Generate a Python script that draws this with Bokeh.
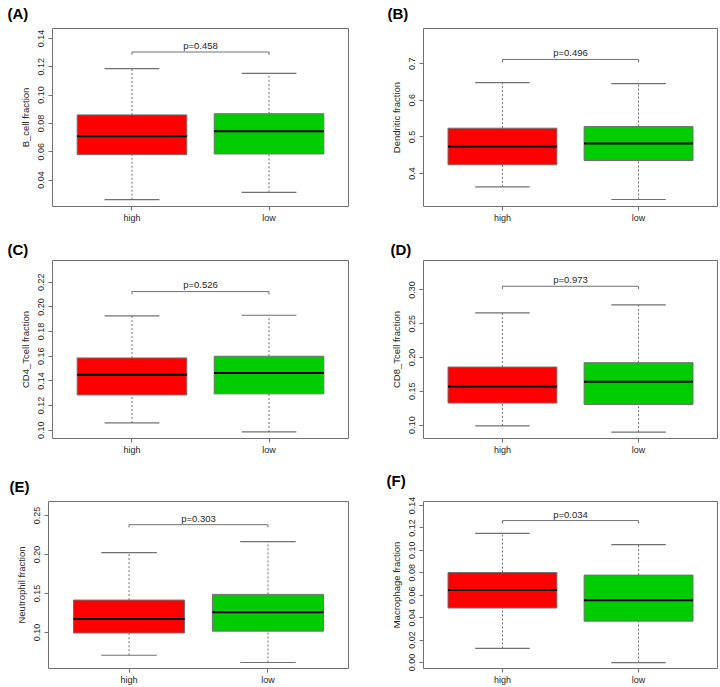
from bokeh.plotting import figure
from bokeh.models import Range1d, FixedTicker, PrintfTickFormatter, Title, ColumnDataSource
from bokeh.layouts import column, row
from bokeh.embed import file_html
from bokeh.resources import INLINE
from bokeh.core.properties import value

# ---------------- data ----------------
groups = ["high", "low"]
group_pos = [1, 2]
fill_colors = ["#FF0000", "#00CD00"]

panel_tags = ["(A)", "(B)", "(C)", "(D)", "(E)", "(F)"]
y_titles = ["B_cell fraction", "Dendritic fraction", "CD4_Tcell fraction",
            "CD8_Tcell fraction", "Neutrophil fraction", "Macrophage fraction"]
p_labels = ["p=0.458", "p=0.496", "p=0.526", "p=0.973", "p=0.303", "p=0.034"]

# five-number summaries: lower whisker, Q1, median, Q3, upper whisker
b_cell_high = [0.0261, 0.0579, 0.0709, 0.0860, 0.1186]
b_cell_low = [0.0313, 0.0584, 0.0745, 0.0868, 0.1153]
dendritic_high = [0.3636, 0.4238, 0.4738, 0.5238, 0.6484]
dendritic_low = [0.3290, 0.4355, 0.4820, 0.5284, 0.6456]
cd4_high = [0.1059, 0.1286, 0.1449, 0.1586, 0.1927]
cd4_low = [0.0986, 0.1295, 0.1465, 0.1600, 0.1932]
cd8_high = [0.0990, 0.1326, 0.1573, 0.1859, 0.2659]
cd8_low = [0.0896, 0.1306, 0.1642, 0.1923, 0.2778]
neutrophil_high = [0.0706, 0.0992, 0.1173, 0.1415, 0.2024]
neutrophil_low = [0.0613, 0.1016, 0.1258, 0.1488, 0.2165]
macrophage_high = [0.0126, 0.0486, 0.0647, 0.0802, 0.1151]
macrophage_low = [0.0000, 0.0369, 0.0556, 0.0779, 0.1051]

bracket_y = [0.1304, 0.7118, 0.2124, 0.3054, 0.2383, 0.1265]

y_limits = [(0.0213, 0.1470), (0.3098, 0.7964), (0.0933, 0.2376),
            (0.0802, 0.3435), (0.0536, 0.2681), (-0.0053, 0.1435)]
y_ticks = [[0.04, 0.06, 0.08, 0.10, 0.12, 0.14],
           [0.4, 0.5, 0.6, 0.7],
           [0.10, 0.12, 0.14, 0.16, 0.18, 0.20, 0.22],
           [0.10, 0.15, 0.20, 0.25, 0.30],
           [0.10, 0.15, 0.20, 0.25],
           [0.00, 0.02, 0.04, 0.06, 0.08, 0.10, 0.12, 0.14]]
tick_formats = ["%.2f", "%.1f", "%.2f", "%.2f", "%.2f", "%.2f"]

stats_high = [b_cell_high, dendritic_high, cd4_high, cd8_high, neutrophil_high, macrophage_high]
stats_low = [b_cell_low, dendritic_low, cd4_low, cd8_low, neutrophil_low, macrophage_low]

# ---------------- layout (pixels) ----------------
# width, height, border left, right, top, bottom, tag offset, tag standoff, tag v-align
geometry = [
    (360, 230, 52, 12, 28, 24, -45, 9, "top"),
    (360, 230, 63, 3, 28, 24, -36, 9, "top"),
    (360, 230, 52, 12, 30, 22, -45, 5, "bottom"),
    (360, 230, 63, 3, 30, 22, -33, 5, "bottom"),
    (360, 227, 48, 12, 33, 17, -39, 13, "bottom"),
    (360, 227, 63, 3, 41, 16, -37, 22, "top"),
]

FONT = "Liberation Sans"
GREY = "#707070"
TEXT = "#262626"


def make_panel(i):
    w, h, bl, br, bt, bb, toff, tstand, tvalign = geometry[i]
    lo, hi = y_limits[i]
    tag = Title(text=panel_tags[i], align="left", offset=toff, standoff=tstand,
                vertical_align=tvalign,
                text_font=FONT, text_font_size="15px", text_font_style="bold",
                text_color="black")
    p = figure(width=w, height=h, x_range=Range1d(0.42, 2.58), y_range=Range1d(lo, hi),
               output_backend="svg", toolbar_location=None, title=tag,
               min_border_left=bl, min_border_right=br, min_border_top=bt, min_border_bottom=bb)
    p.background_fill_color = "white"
    p.border_fill_color = "white"
    p.outline_line_color = GREY
    p.outline_line_width = 1
    p.xgrid.visible = False
    p.ygrid.visible = False

    stats = [stats_high[i], stats_low[i]]
    src = ColumnDataSource(dict(
        x=group_pos,
        lw=[s[0] for s in stats], q1=[s[1] for s in stats], med=[s[2] for s in stats],
        q3=[s[3] for s in stats], uw=[s[4] for s in stats],
        left=[g - 0.4 for g in group_pos], right=[g + 0.4 for g in group_pos],
        cl=[g - 0.2 for g in group_pos], cr=[g + 0.2 for g in group_pos],
        color=fill_colors,
    ))
    # whiskers
    p.segment(x0="x", y0="q3", x1="x", y1="uw", source=src, line_color=GREY,
              line_width=1, line_dash="2 2")
    p.segment(x0="x", y0="lw", x1="x", y1="q1", source=src, line_color=GREY,
              line_width=1, line_dash="2 2")
    # caps
    p.segment(x0="cl", y0="uw", x1="cr", y1="uw", source=src, line_color=GREY, line_width=1.2)
    p.segment(x0="cl", y0="lw", x1="cr", y1="lw", source=src, line_color=GREY, line_width=1.2)
    # boxes
    p.quad(left="left", right="right", bottom="q1", top="q3", source=src,
           fill_color="color", line_color=GREY, line_width=1)
    # medians
    p.segment(x0="left", y0="med", x1="right", y1="med", source=src,
              line_color="black", line_width=2)

    # significance bracket
    b = bracket_y[i]
    tick = (hi - lo) * 0.016
    p.segment(x0=[group_pos[0], group_pos[0], group_pos[1]],
              y0=[b, b, b],
              x1=[group_pos[1], group_pos[0], group_pos[1]],
              y1=[b, b - tick, b - tick], line_color=GREY, line_width=1)
    p.text(x=[(group_pos[0] + group_pos[1]) / 2], y=[b + (hi - lo) * 0.038], text=[p_labels[i]],
           text_align="center", text_baseline="alphabetic",
           text_font=value(FONT), text_font_size="9.5px", text_color=TEXT)

    # axes
    for ax in (p.xaxis[0], p.yaxis[0]):
        ax.axis_line_color = None
        ax.major_tick_line_color = GREY
        ax.major_tick_out = 4
        ax.major_tick_in = 0
        ax.minor_tick_line_color = None
        ax.major_label_text_font = FONT
        ax.major_label_text_font_size = "9px"
        ax.major_label_text_color = TEXT
        ax.major_label_standoff = 2
    p.yaxis.major_label_standoff = 4
    p.xaxis.ticker = FixedTicker(ticks=group_pos)
    p.xaxis.major_label_overrides = {g: name for g, name in zip(group_pos, groups)}
    p.yaxis.ticker = FixedTicker(ticks=y_ticks[i])
    p.yaxis.formatter = PrintfTickFormatter(format=tick_formats[i])
    p.yaxis.major_label_orientation = "vertical"
    p.yaxis.axis_label = y_titles[i]
    p.yaxis.axis_label_text_font = FONT
    p.yaxis.axis_label_text_font_size = "9.5px"
    p.yaxis.axis_label_text_font_style = "normal"
    p.yaxis.axis_label_text_color = TEXT
    p.yaxis.axis_label_standoff = 5
    return p


panels = [make_panel(i) for i in range(6)]
layout = column(row(panels[0], panels[1]), row(panels[2], panels[3]), row(panels[4], panels[5]))

open("out.html", "w").write(file_html(layout, INLINE))
